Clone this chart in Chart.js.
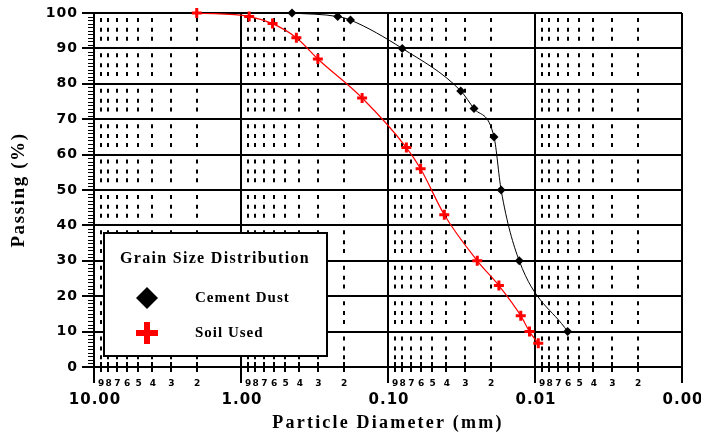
<!DOCTYPE html>
<html>
<head>
<meta charset="utf-8">
<script src="https://cdn.jsdelivr.net/npm/chart.js@4.4.0/dist/chart.umd.min.js"></script>
<style>
  html, body { margin: 0; padding: 0; background: #fff; }
  canvas { display: block; }
</style>
</head>
<body>
<canvas id="chart" width="701" height="436"></canvas>
<script>
// particle size (mm) and percent passing
const cementSize = [0.45, 0.22, 0.18, 0.08, 0.032, 0.026, 0.019, 0.017, 0.0128, 0.006];
const cementPass = [100, 99, 98, 90, 78, 73, 65, 50, 30, 10];

const soilSize = [2.0, 0.88, 0.61, 0.42, 0.30, 0.15, 0.075, 0.06, 0.0414, 0.0247, 0.0176, 0.0125, 0.0109, 0.0095];
const soilPass = [100, 99, 97, 93, 87, 76, 62, 56, 43, 30, 23, 14.5, 10, 6.7];

const xMajorTicks = [10, 1, 0.1, 0.01, 0.001];
const xMinorMantissas = [9, 8, 7, 6, 5, 4, 3, 2];
const yTicks = [0, 10, 20, 30, 40, 50, 60, 70, 80, 90, 100];

const seriesNames = ['Cement Dust', 'Soil Used'];
const legendTitle = 'Grain Size Distribution';
const xTitle = 'Particle Diameter (mm)';
const yTitle = 'Passing (%)';

const SERIF = '"Liberation Serif", "Times New Roman", serif';
const SANS = '"DejaVu Sans", Arial, sans-serif';

function pts(xs, ys) {
  return xs.map((v, i) => ({ x: v, y: ys[i] }));
}

function text(ctx, s, x, y, font, align, spacing) {
  ctx.font = font;
  ctx.letterSpacing = (spacing || 0) + 'px';
  ctx.textAlign = align;
  ctx.textBaseline = 'middle';
  ctx.fillText(s, x, y);
}

function line(ctx, x1, y1, x2, y2) {
  ctx.beginPath();
  ctx.moveTo(x1, y1);
  ctx.lineTo(x2, y2);
  ctx.stroke();
}

const gridPlugin = {
  id: 'gsdGrid',
  beforeDatasetsDraw(chart) {
    const { ctx, chartArea: a, scales: { x, y } } = chart;
    ctx.save();
    ctx.strokeStyle = '#000';

    // dashed minor verticals, three dashes in each 10% band
    ctx.lineWidth = 2;
    xMajorTicks.slice(1).forEach(d => {
      xMinorMantissas.forEach(m => {
        const px = Math.round(x.getPixelForValue(m * d));
        for (let i = 0; i < yTicks.length - 1; i++) {
          const top = y.getPixelForValue(yTicks[i + 1]);
          const h = y.getPixelForValue(yTicks[i]) - top;
          [0.14, 0.42, 0.67].forEach(f => line(ctx, px, top + h * f, px, top + h * f + 4));
        }
        line(ctx, px, a.bottom - 5, px, a.bottom + 5);
      });
    });

    // horizontal grid
    ctx.lineWidth = 2;
    yTicks.forEach(v => {
      const py = Math.round(y.getPixelForValue(v));
      line(ctx, a.left - 12, py, a.right, py);
    });

    // minor y ticks
    ctx.lineWidth = 1;
    for (let v = 1; v < 100; v++) {
      if (v % 10 === 0) continue;
      const py = Math.round(y.getPixelForValue(v)) + 0.5;
      line(ctx, a.left - 6, py, a.left, py);
    }

    // decade verticals
    ctx.lineWidth = 2;
    xMajorTicks.forEach(d => {
      const px = Math.round(x.getPixelForValue(d));
      line(ctx, px, a.top, px, a.bottom + 16);
    });
    ctx.restore();
  },
  afterDatasetsDraw(chart) {
    const { ctx, chartArea: a, scales: { x, y } } = chart;
    ctx.save();
    ctx.fillStyle = '#000';

    // y tick labels
    yTicks.forEach(v => {
      text(ctx, String(v), a.left - 16, y.getPixelForValue(v), 'bold 14px ' + SANS, 'right', 1);
    });

    // x labels
    xMajorTicks.slice(1).forEach(d => {
      xMinorMantissas.forEach(m => {
        text(ctx, String(m), x.getPixelForValue(m * d) + 0.5, a.bottom + 17, 'bold 9px ' + SANS, 'center', 0);
      });
    });
    xMajorTicks.forEach(d => {
      text(ctx, d.toFixed(2), x.getPixelForValue(d) + 1, a.bottom + 33, 'bold 15px ' + SANS, 'center', 1);
    });

    // axis titles
    text(ctx, xTitle, (a.left + a.right) / 2, a.bottom + 56, 'bold 18px ' + SERIF, 'center', 2.2);
    ctx.save();
    ctx.translate(19, (a.top + a.bottom) / 2);
    ctx.rotate(-Math.PI / 2);
    text(ctx, yTitle, 0, 0, 'bold 19px ' + SERIF, 'center', 1.6);
    ctx.restore();

    // legend box
    const bx = 104, by = 233, bw = 223, bh = 123;
    ctx.fillStyle = '#fff';
    ctx.fillRect(bx, by, bw, bh);
    ctx.strokeStyle = '#000';
    ctx.lineWidth = 2;
    ctx.strokeRect(bx, by, bw, bh);

    ctx.fillStyle = '#000';
    text(ctx, legendTitle, bx + 111, by + 26, 'bold 16px ' + SERIF, 'center', 1.3);

    const mx = 147, my1 = 298, my2 = 333;
    ctx.beginPath();
    ctx.moveTo(mx, my1 - 11);
    ctx.lineTo(mx + 11, my1);
    ctx.lineTo(mx, my1 + 11);
    ctx.lineTo(mx - 11, my1);
    ctx.closePath();
    ctx.fill();

    ctx.strokeStyle = '#ff0000';
    ctx.lineWidth = 6;
    line(ctx, mx - 11, my2, mx + 11, my2);
    line(ctx, mx, my2 - 11, mx, my2 + 11);

    ctx.fillStyle = '#000';
    text(ctx, seriesNames[0], 195, my1, 'bold 15px ' + SERIF, 'left', 1);
    text(ctx, seriesNames[1], 195, my2, 'bold 15px ' + SERIF, 'left', 1);
    ctx.restore();
  }
};

new Chart(document.getElementById('chart'), {
  type: 'scatter',
  data: {
    datasets: [
      {
        label: seriesNames[0],
        data: pts(cementSize, cementPass),
        showLine: true,
        borderColor: '#000',
        borderWidth: 1,
        cubicInterpolationMode: 'monotone',
        pointStyle: 'rectRot',
        pointRadius: 4.5,
        pointBackgroundColor: '#000',
        pointBorderColor: '#000',
        pointBorderWidth: 0,
        clip: false,
      },
      {
        label: seriesNames[1],
        data: pts(soilSize, soilPass),
        showLine: true,
        borderColor: '#ff0000',
        borderWidth: 1.2,
        cubicInterpolationMode: 'monotone',
        pointStyle: 'cross',
        pointRadius: 5,
        pointBorderColor: '#ff0000',
        pointBorderWidth: 3,
        clip: false,
      },
    ],
  },
  options: {
    responsive: false,
    animation: false,
    layout: { padding: { left: 94, right: 19, top: 13, bottom: 69 } },
    plugins: { legend: { display: false }, tooltip: { enabled: false } },
    scales: {
      x: { type: 'logarithmic', min: 0.001, max: 10, reverse: true, display: false },
      y: { type: 'linear', min: 0, max: 100, display: false },
    },
  },
  plugins: [gridPlugin],
});
</script>
</body>
</html>
